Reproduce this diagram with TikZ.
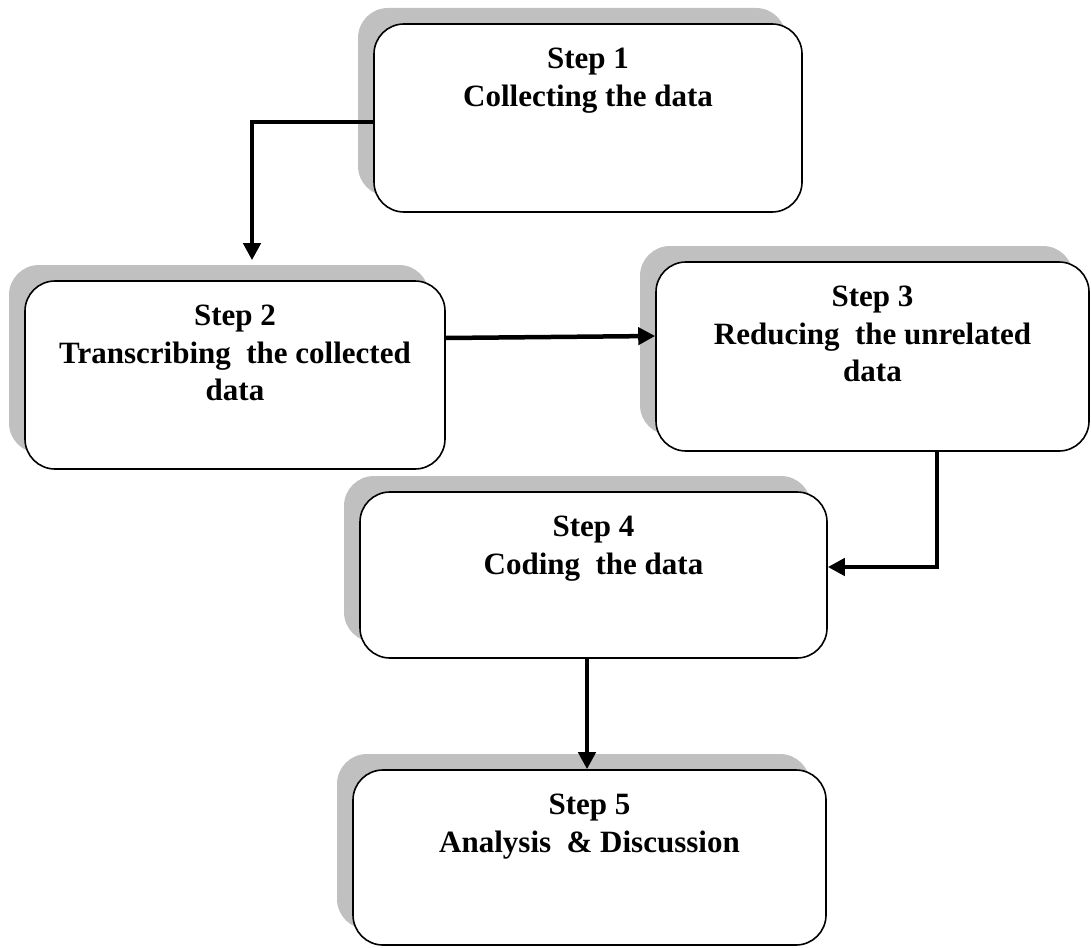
\documentclass[tikz,border=0pt]{standalone}
\usepackage{fontspec}
\setmainfont{Liberation Serif}
\usetikzlibrary{arrows.meta,shadows}
\definecolor{shadowgray}{HTML}{C0C0C0}
\begin{document}
\begin{tikzpicture}[x=1pt,y=-1pt,
  stepbox/.style={draw=black, line width=1.6pt, fill=white, rounded corners=30pt,
    inner sep=0pt, general shadow={fill=shadowgray, shadow xshift=-16pt, shadow yshift=16pt}},
  lbl/.style={font=\fontsize{31}{37.5}\selectfont\bfseries, align=center, inner sep=0pt, anchor=north},
  arr/.style={draw=black, line width=4.5pt, line join=miter, -{Triangle[length=17pt,width=17pt]}}
]
\useasboundingbox (0,0) rectangle (1091,947);

\node[stepbox, minimum width=428pt, minimum height=188pt] (s1) at (588,118) {};
\node[stepbox, minimum width=420pt, minimum height=188pt] (s2) at (235,375) {};
\node[stepbox, minimum width=433pt, minimum height=189pt] (s3) at (872.5,356.5) {};
\node[stepbox, minimum width=467pt, minimum height=166pt] (s4) at (593.5,575) {};
\node[stepbox, minimum width=473pt, minimum height=175pt] (s5) at (589.5,857.5) {};

\node[lbl] (t1) at ([yshift=-25pt]s1.north) {Step 1\\Collecting the data};
\node[lbl] (t2) at ([yshift=-25pt]s2.north) {Step 2\\Transcribing\ \ the collected\\data};
\node[lbl] (t3) at ([yshift=-25pt]s3.north) {Step 3\\Reducing\ \ the unrelated\\data};
\node[lbl] (t4) at ([yshift=-25pt]s4.north) {Step 4\\Coding\ \ the data};
\node[lbl] (t5) at ([yshift=-25pt]s5.north) {Step 5\\Analysis\ \ \& Discussion};

\draw[arr, shorten >=20pt] ([yshift=-4pt]s1.west) -| ([xshift=17pt]s2.north);
\draw[arr] ([yshift=37pt]s2.east) -- ([yshift=20.5pt]s3.west);
\draw[arr] ([xshift=64.5pt]s3.south) |- ([yshift=8pt]s4.east);
\draw[arr] ([xshift=-6.5pt]s4.south) -- ([xshift=-6.5pt]s4.south |- s5.north);
\end{tikzpicture}
\end{document}
